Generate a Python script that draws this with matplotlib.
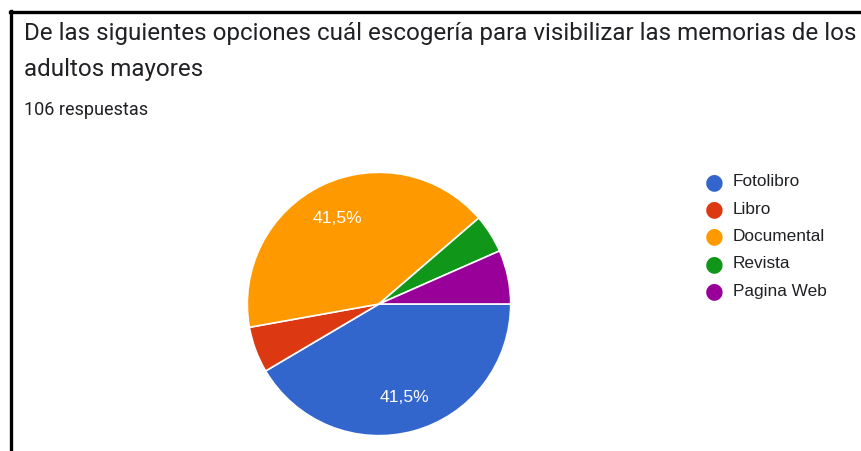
import matplotlib.pyplot as plt
from matplotlib.lines import Line2D

plt.rcParams["font.family"] = ["Roboto", "DejaVu Sans"]

title_lines = ["De las siguientes opciones cuál escogería para visibilizar las memorias de los",
               "adultos mayores"]
subtitle = "106 respuestas"
labels = ["Fotolibro", "Libro", "Documental", "Revista", "Pagina Web"]
counts = [44, 6, 44, 5, 7]
colors = ["#3366cc", "#dc3912", "#ff9900", "#109618", "#990099"]

W, H = 861, 452
fig = plt.figure(figsize=(W / 100, H / 100), dpi=100)

# frame lines (screenshot border)
fig.add_artist(Line2D([10.5 / W, 10.5 / W], [0, 1 - 12 / H], color="black", lw=2.4))
fig.add_artist(Line2D([9.5 / W, 1], [1 - 13 / H, 1 - 13 / H], color="black", lw=2.4))

for i, line in enumerate(title_lines):
    fig.text(24 / W, 1 - (40 + 36 * i) / H, line, fontsize=17.4, color="#202124",
             va="baseline")
fig.text(24 / W, 1 - 115 / H, subtitle, fontsize=13.0, color="#202124", va="baseline")

cx, cy, r = 379, 305, 133
ax = fig.add_axes([(cx - r) / W, (H - cy - r) / H, 2 * r / W, 2 * r / H])


def fmt(p):
    return f"{p:.1f}".replace(".", ",") + "%" if p > 10 else ""


wedges, _, autotexts = ax.pie(
    counts, colors=colors, startangle=0, counterclock=False, radius=1,
    autopct=fmt, pctdistance=0.73,
    wedgeprops=dict(edgecolor="white", linewidth=1.2),
    textprops=dict(color="white", fontsize=12.6, family="Liberation Sans"),
)
ax.set_xlim(-1.01, 1.01)
ax.set_ylim(-1.01, 1.01)
ax.set_aspect("equal")
ax.axis("off")

for i, (lab, col) in enumerate(zip(labels, colors)):
    y = 1 - (182 + 27.3 * i) / H
    fig.text(714 / W, y, "\u25CF", color=col, fontsize=15.5, ha="center", va="center",
             family="DejaVu Sans")
    fig.text(733 / W, y, lab, color="#202124", fontsize=12.4, va="center",
             family="Liberation Sans")

fig.savefig("out.png", dpi=100)
